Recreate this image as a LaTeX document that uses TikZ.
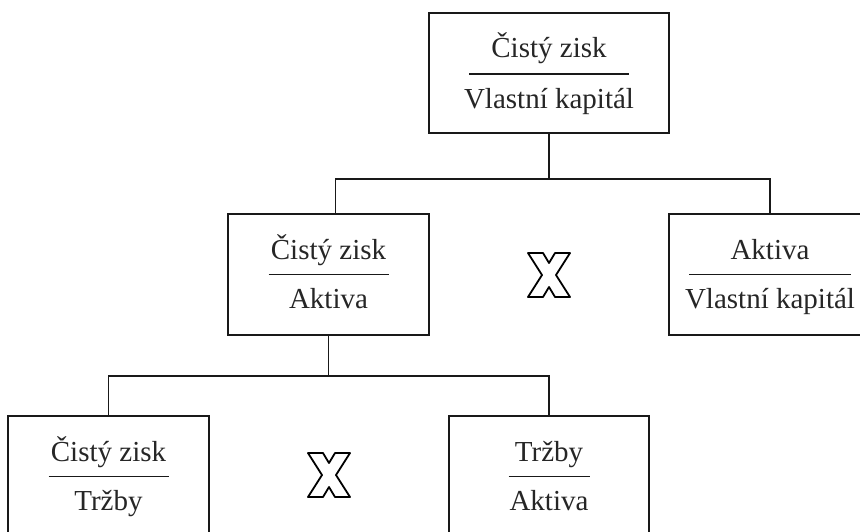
\documentclass[tikz,border=0pt]{standalone}
\usepackage{fontspec}
\setmainfont{Liberation Serif}
\begin{document}
\begin{tikzpicture}[x=1pt,y=1pt,
  box/.style={draw=black!90, line width=1.6pt, fill=white, rectangle, inner sep=0pt},
  txt/.style={anchor=base, inner sep=0pt, text=black!85, font=\fontsize{29}{34}\selectfont},
  fracline/.style={draw=black!90, line width=1.8pt},
  conn/.style={draw=black!90, line width=1.6pt},
  xmark/.style={draw=black, line width=1.8pt, fill=white, line join=round}
]
\useasboundingbox (0,0) rectangle (860,-531);

% boxes
\node[box, minimum width=240pt, minimum height=120pt] (top) at (549,-73) {};
\node[box, minimum width=201pt, minimum height=121pt] (ml) at (328.5,-274.5) {};
\node[box, minimum width=202pt, minimum height=121pt] (mr) at (770,-274.5) {};
\node[box, minimum width=201pt, minimum height=121pt] (bl) at (108.5,-476.5) {};
\node[box, minimum width=200pt, minimum height=121pt] (br) at (549,-476.5) {};

% texts
\node[txt] (topn) at ([yshift=16pt]top.center) {Čistý zisk};
\node[txt] (topd) at ([yshift=-35pt]top.center) {Vlastní kapitál};
\draw[fracline] ([xshift=-80pt,yshift=-1pt]top.center) -- ([xshift=80pt,yshift=-1pt]top.center);

\node[txt] (mln) at ([yshift=15pt]ml.center) {Čistý zisk};
\node[txt] (mld) at ([yshift=-34pt]ml.center) {Aktiva};
\draw[fracline] ([xshift=-60pt]ml.center) -- ([xshift=60pt]ml.center);

\node[txt] (mrn) at ([yshift=15pt]mr.center) {Aktiva};
\node[txt] (mrd) at ([yshift=-34pt]mr.center) {Vlastní kapitál};
\draw[fracline] ([xshift=-81pt]mr.center) -- ([xshift=81pt]mr.center);

\node[txt] (bln) at ([yshift=15pt]bl.center) {Čistý zisk};
\node[txt] (bld) at ([yshift=-34pt]bl.center) {Tržby};
\draw[fracline] ([xshift=-60pt]bl.center) -- ([xshift=60pt]bl.center);

\node[txt] (brn) at ([yshift=15pt]br.center) {Tržby};
\node[txt] (brd) at ([yshift=-34pt]br.center) {Aktiva};
\draw[fracline] ([xshift=-40.5pt]br.center) -- ([xshift=40.5pt]br.center);

% connectors
\coordinate (j1) at ([yshift=-45pt]top.south);
\draw[conn] (top.south) -- (j1) -| ([xshift=7pt]ml.north);
\draw[conn] (j1) -| (mr.north);
\coordinate (j2) at ([yshift=-40pt]ml.south);
\draw[conn] (ml.south) -- (j2) -| (bl.north);
\draw[conn] (j2) -| (br.north);

% X marks
\foreach \name/\cx/\cy in {xa/549/-275, xb/329/-475} {
  \coordinate (\name) at (\cx,\cy);
  \draw[xmark] (\name) ++(-21,22) -- ++(15,0) -- ++(6,-10) -- ++(6,10) -- ++(15,0)
     -- ++(-14,-22) -- ++(14,-22) -- ++(-15,0) -- ++(-6,10) -- ++(-6,-10) -- ++(-15,0)
     -- ++(14,22) -- cycle;
}
\end{tikzpicture}
\end{document}
